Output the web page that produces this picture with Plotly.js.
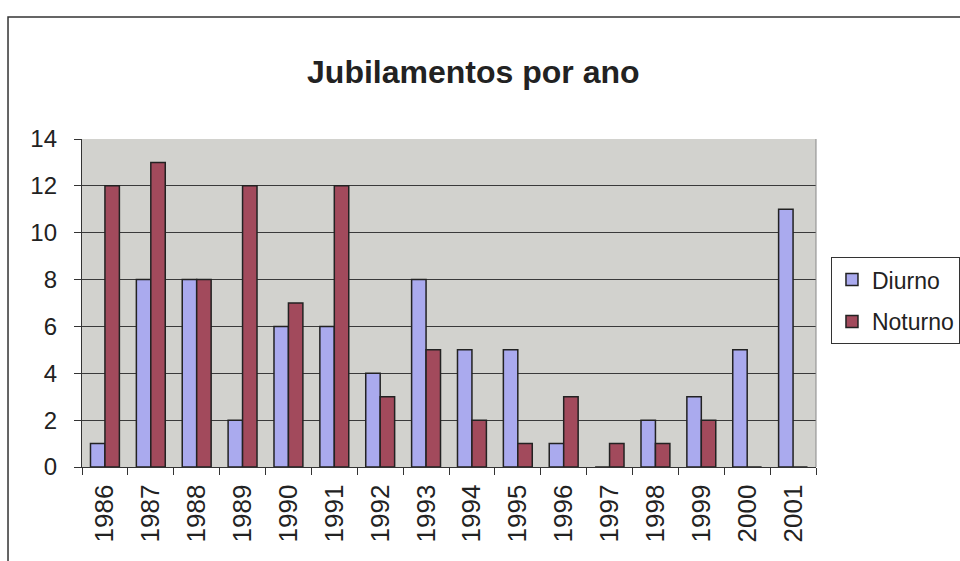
<!DOCTYPE html>
<html>
<head>
<meta charset="utf-8">
<script src="https://cdn.plot.ly/plotly-3.0.1.min.js"></script>
<style>
html,body{margin:0;padding:0;background:#fff;}
#chart{width:960px;height:561px;}
</style>
</head>
<body>
<div id="chart"></div>
<script>
const years = ['1986','1987','1988','1989','1990','1991','1992','1993','1994','1995','1996','1997','1998','1999','2000','2001'];
const diurno = [1, 8, 8, 2, 6, 6, 4, 8, 5, 5, 1, 0, 2, 3, 5, 11];
const noturno = [12, 13, 8, 12, 7, 12, 3, 5, 2, 1, 3, 1, 1, 2, 0, 0];
const yTicks = [0, 2, 4, 6, 8, 10, 12, 14];

const font = 'Liberation Sans, Arial, sans-serif';
const txt = '#222222';

const traces = [
  {type:'bar', name:'Diurno', x:years, y:diurno, legendgroup:'d',
   marker:{color:'#aaaaee', line:{color:'#222', width:1.5}}},
  {type:'bar', name:'Noturno', x:years, y:noturno, legendgroup:'n',
   marker:{color:'#a24a5c', line:{color:'#222', width:1.5}}}
];

const layout = {
  width:960, height:561,
  margin:{l:82, r:144, t:139, b:94, autoexpand:false},
  paper_bgcolor:'#ffffff',
  plot_bgcolor:'#d2d2ce',
  barmode:'group', bargap:0.37, bargroupgap:0,
  title:{text:'<b>Jubilamentos por ano</b>', x:0.493, xref:'container', xanchor:'center',
         y:0.872, yref:'container', yanchor:'middle',
         font:{family:font, size:32, color:txt}},
  xaxis:{type:'category', tickson:'boundaries', ticks:'outside', ticklen:7, tickcolor:'#333',
         tickangle:-90, ticklabelstandoff:6,
         tickfont:{family:font, size:26, color:txt},
         showline:true, linecolor:'#333', linewidth:1.2, showgrid:false, mirror:false},
  yaxis:{range:[0,14], tickvals:yTicks, ticks:'outside', ticklen:7, tickcolor:'#333',
         ticklabelstandoff:12,
         tickfont:{family:font, size:24, color:txt},
         showline:true, linecolor:'#333', linewidth:1.2,
         showgrid:true, gridcolor:'#3a3a3a', gridwidth:1, zeroline:false},
  legend:{x:1.0204, xanchor:'left', y:0.640, yanchor:'top', traceorder:'grouped', tracegroupgap:9,
          itemwidth:30,
          bgcolor:'#ffffff', bordercolor:'#333', borderwidth:1,
          font:{family:font, size:23, color:txt}},
  shapes:[
    {type:'rect', xref:'paper', yref:'paper', x0:-0.1008, x1:2, y0:-1, y1:1.372,
     line:{color:'#333', width:1.5}, fillcolor:'rgba(0,0,0,0)'},
    {type:'line', xref:'paper', yref:'paper', x0:1, x1:1, y0:0, y1:1,
     line:{color:'#888', width:1}}
  ]
};

Plotly.newPlot('chart', traces, layout, {displayModeBar:false, staticPlot:true});
</script>
</body>
</html>
